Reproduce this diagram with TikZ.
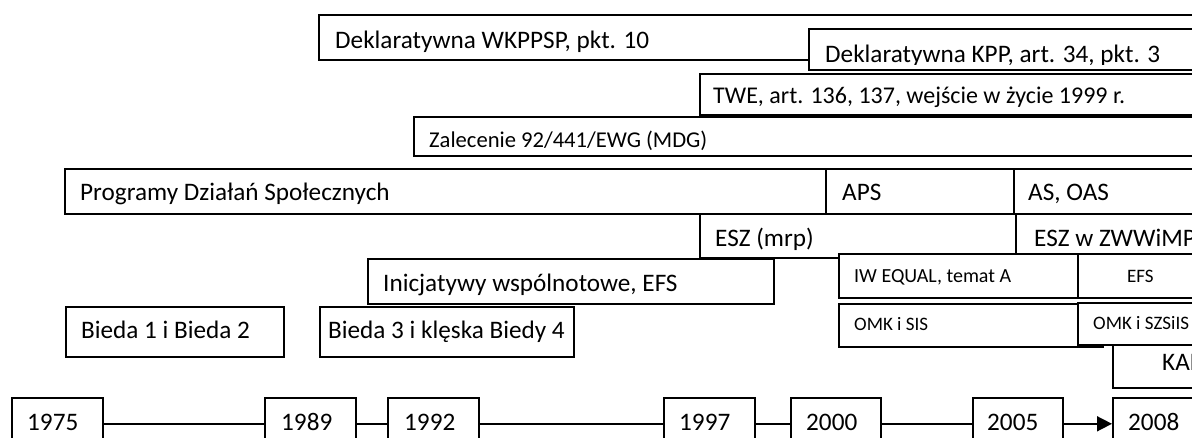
\documentclass[tikz,border=0pt]{standalone}
\usepackage{fontspec}
\setmainfont{Carlito}
\usetikzlibrary{arrows.meta}
\tikzset{
  boxst/.style={draw=black, fill=white, line width=1.6pt, rectangle, inner sep=0pt, anchor=north west},
  lbl/.style={anchor=base west, inner sep=0pt, text=black},
  big/.style={font=\fontsize{25.2}{30}\selectfont},
  mid/.style={font=\fontsize{24}{29}\selectfont},
  med/.style={font=\fontsize{22.6}{27}\selectfont},
  sml/.style={font=\fontsize{19}{23}\selectfont},
  smlb/.style={font=\fontsize{20}{24}\selectfont},
  conn/.style={draw=black, line width=1.6pt},
}
\newcommand\tbox[5]{\node[boxst, minimum width={(#4-#2)*1pt}, minimum height={(#5-#3)*1pt}] (#1) at (#2,#3) {};}
\newcommand\tlab[5]{\node[lbl, #4] (#1) at (#2,#3) {#5};}
\begin{document}
\begin{tikzpicture}[x=1pt, y=-1pt]
\useasboundingbox (0,0) rectangle (1192,437);
\clip (0,0) rectangle (1192,437);
\fill[white] (0,0) rectangle (1192,437);
% top rows
\tbox{wkppsp}{318}{14}{1210}{59}
\tlab{twkppsp}{335}{48}{big}{Deklaratywna WKPPSP, pkt. 10}
\tbox{kpp}{808}{28}{1210}{69}
\begin{scope}
\clip (808,28) rectangle (1192,64);
\tlab{tkpp}{825}{62}{big}{Deklaratywna KPP, art. 34, pkt. 3}
\end{scope}
\tbox{twe}{699}{73}{1210}{114}
\tlab{ttwe}{713}{103}{mid}{TWE, art. 136, 137, wejście w życie 1999 r.}
\tbox{zal}{413}{116}{1210}{155}
\tlab{tzal}{429}{147}{med}{Zalecenie 92/441/EWG (MDG)}
% programs row
\tbox{prog}{64}{168}{825}{213}
\tlab{tprog}{80}{200}{big}{Programy Działań Społecznych}
\tbox{aps}{825}{168}{1013}{213}
\tlab{taps}{842}{200}{big}{APS}
\tbox{as}{1013}{168}{1210}{213}
\tlab{tas}{1028}{200}{big}{AS, OAS}
% ESZ row
\tbox{esz}{699}{213}{1015}{257}
\tlab{tesz}{715}{246}{big}{ESZ (mrp)}
\tbox{eszw}{1015}{213}{1210}{253}
\tlab{teszw}{1034}{246}{big}{ESZ w ZWWiMP}
% initiatives
\tbox{inic}{367}{258}{773}{303}
\tlab{tinic}{383}{291}{big}{Inicjatywy wspólnotowe, EFS}
\tbox{iw}{838}{253}{1077}{297}
\tlab{tiw}{854}{282}{smlb}{IW EQUAL, temat A}
\tbox{efs}{1077}{253}{1210}{297}
\tlab{tefs}{1127}{282}{sml}{EFS}
\tbox{omka}{838}{303}{1102}{346}
\tlab{tomka}{854}{330}{sml}{OMK i SIS}
\tbox{omkb}{1077}{302}{1210}{344}
\tlab{tomkb}{1093}{329}{sml}{OMK i SZSiIS}
\tbox{kap}{1112}{344}{1210}{387}
\tlab{tkap}{1162}{370}{big}{KAP}
% poverty programmes
\tbox{bieda}{65}{306}{283}{356}
\tlab{tbieda}{81}{338}{big}{Bieda 1 i Bieda 2}
\tbox{biedb}{319}{306}{573}{356}
\tlab{tbiedb}{328}{338}{big}{Bieda 3 i klęska Biedy 4}
% years
\tbox{y1975}{11}{397}{102}{449}
\tlab{t1975}{27}{430}{big}{1975}
\tbox{y1989}{264}{397}{355}{449}
\tlab{t1989}{281}{430}{big}{1989}
\tbox{y1992}{387}{397}{478}{449}
\tlab{t1992}{404}{430}{big}{1992}
\tbox{y1997}{663}{397}{754}{449}
\tlab{t1997}{679}{430}{big}{1997}
\tbox{y2000}{790}{397}{880}{449}
\tlab{t2000}{806}{430}{big}{2000}
\tbox{y2005}{972}{397}{1062}{449}
\tlab{t2005}{987}{430}{big}{2005}
\tbox{y2008}{1112}{397}{1203}{449}
\tlab{t2008}{1128}{430}{big}{2008}
\draw[conn] (y1975.east) -- (y1989.west);
\draw[conn] (y1989.east) -- (y1992.west);
\draw[conn] (y1992.east) -- (y1997.west);
\draw[conn] (y1997.east) -- (y2000.west);
\draw[conn] (y2000.east) -- (y2005.west);
\draw[conn, -{Triangle[length=15pt,width=15pt]}] (y2005.east) -- (y2008.west);
\end{tikzpicture}
\end{document}
